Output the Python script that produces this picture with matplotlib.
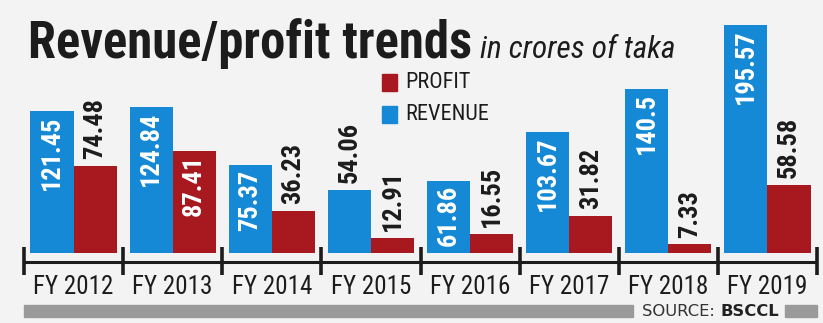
import os
import matplotlib
matplotlib.use("Agg")
import matplotlib.pyplot as plt
from matplotlib.patches import Rectangle
from matplotlib import font_manager as fm
from matplotlib.font_manager import FontProperties

# ---------------- data ----------------
years = ["FY 2012", "FY 2013", "FY 2014", "FY 2015", "FY 2016", "FY 2017", "FY 2018", "FY 2019"]
revenue = [121.45, 124.84, 75.37, 54.06, 61.86, 103.67, 140.5, 195.57]
profit = [74.48, 87.41, 36.23, 12.91, 16.55, 31.82, 7.33, 58.58]
revenue_labels = ["121.45", "124.84", "75.37", "54.06", "61.86", "103.67", "140.5", "195.57"]
profit_labels = ["74.48", "87.41", "36.23", "12.91", "16.55", "31.82", "7.33", "58.58"]

# ---------------- fonts: look for a condensed face ----------------
PREFS = ["robotocondensed", "liberationsansnarrow", "opensanscondensed", "notosanscondensed",
         "dejavusanscondensed", "latocondensed", "intercondensed"]


def _wt(f):
    w = f.weight
    if isinstance(w, str):
        return {"bold": 700, "semibold": 600, "normal": 400, "regular": 400, "medium": 500,
                "light": 300, "black": 900, "heavy": 800}.get(w.lower(), 400)
    return int(w)


def pick(bold, italic):
    for p in PREFS:
        best = None
        for f in fm.fontManager.ttflist:
            key = (os.path.basename(f.fname) + f.name).lower().replace(" ", "").replace("_", "").replace("-", "")
            if p not in key:
                continue
            it = f.style in ("italic", "oblique")
            if it != italic:
                continue
            w = _wt(f)
            score = abs(w - (700 if bold else 400))
            if best is None or score < best[0]:
                best = (score, f.fname)
        if best is not None and best[0] <= 100:
            return best[1]
    return None


def fprop(bold=False, italic=False, size=12, scale_fallback=0.82):
    path = pick(bold, italic)
    if path:
        return FontProperties(fname=path, size=size)
    return FontProperties(family="Liberation Sans", weight="bold" if bold else "normal",
                          style="italic" if italic else "normal", size=size * scale_fallback)


BG = "#f3f3f3"
BLUE = "#1589d5"
RED = "#a8191f"
DARK = "#1c1c1c"
GRAY = "#9a9a9a"
rev_inside_min = 60     # revenue labels drawn inside bars above this
prof_inside_min = 80    # profit labels drawn inside bars above this

W, H = 823, 323
fig = plt.figure(figsize=(W / 100, H / 100), dpi=100, facecolor=BG)


def fx(px):
    return px / W


def fy(py):
    return 1 - py / H


ax_left, ax_right, ax_top, ax_bottom = 24, 817, 20, 275
baseline_px = 253
ppu = 1.166  # pixels per unit
ax = fig.add_axes([fx(ax_left), fy(ax_bottom), (ax_right - ax_left) / W, (ax_bottom - ax_top) / H])
ax.set_facecolor("none")
ax.set_xlim(-0.5, len(years) - 0.5)
ax.set_ylim(-(ax_bottom - baseline_px) / ppu, (baseline_px - ax_top) / ppu)
for s in ax.spines.values():
    s.set_visible(False)
ax.set_yticks([])

bw = 0.435
xs = list(range(len(years)))
ax.bar([x - bw / 2 for x in xs], revenue, width=bw, color=BLUE, zorder=2)
ax.bar([x + bw / 2 for x in xs], profit, width=bw, color=RED, zorder=2)


def py2d(py):
    return (baseline_px - py) / ppu


ax.plot([-0.5, len(years) - 0.5], [py2d(261.5)] * 2, color=DARK, lw=2.2, clip_on=False, zorder=3,
        solid_capstyle="butt")
ax.vlines([x - 0.5 for x in range(len(years) + 1)], py2d(275), py2d(247), color=DARK, lw=2.6,
          clip_on=False, zorder=3)

ax.set_xticks(xs)
ax.set_xticklabels(years, color=DARK)
for tl in ax.get_xticklabels():
    tl.set_fontproperties(fprop(size=18))
ax.tick_params(axis="x", length=0, pad=0)

val_fp = fprop(bold=True, size=19)


def label(x, v, txt, inside):
    if inside:
        ax.annotate(txt, xy=(x, v), xytext=(0, -3), textcoords="offset points", rotation=90,
                    ha="center", va="top", color="white", fontproperties=val_fp, zorder=4)
    else:
        ax.annotate(txt, xy=(x, v), xytext=(0, 5), textcoords="offset points", rotation=90,
                    ha="center", va="bottom", color=DARK, fontproperties=val_fp, zorder=4)


for x, v, t in zip(xs, revenue, revenue_labels):
    label(x - bw / 2, v, t, v > rev_inside_min)
for x, v, t in zip(xs, profit, profit_labels):
    label(x + bw / 2, v, t, v > prof_inside_min)

# ---------------- title ----------------
t1 = fig.text(fx(28), fy(58), "Revenue/profit trends", fontproperties=fprop(bold=True, size=36.5),
              color=DARK, va="baseline", ha="left")
fig.canvas.draw()
r = fig.canvas.get_renderer()
bb = t1.get_window_extent(r)
fig.text(bb.x1 / W + 8 / W, fy(58), "in crores of taka", fontproperties=fprop(italic=True, size=22.5),
         color=DARK, va="baseline", ha="left")

# ---------------- legend ----------------
for (y0, c, name) in [(74, RED, "PROFIT"), (106, BLUE, "REVENUE")]:
    fig.patches.append(Rectangle((fx(382), fy(y0 + 17)), 15 / W, 17 / H, transform=fig.transFigure,
                                 color=c))
    fig.text(fx(405), fy(y0 + 8.5), name, fontproperties=fprop(size=16), color=DARK,
             va="center", ha="left")

# ---------------- source ----------------
fig.patches.append(Rectangle((fx(24), fy(317)), (633 - 24) / W, 12 / H, transform=fig.transFigure,
                             color=GRAY))
fig.patches.append(Rectangle((fx(785), fy(317)), (817 - 785) / W, 12 / H, transform=fig.transFigure,
                             color=GRAY))
s1 = fig.text(fx(642), fy(311), "SOURCE: ", fontfamily="DejaVu Sans", fontsize=11.8, color="#333333",
              va="center", ha="left")
fig.canvas.draw()
b1 = s1.get_window_extent(fig.canvas.get_renderer())
fig.text(b1.x1 / W, fy(311), "BSCCL", fontfamily="DejaVu Sans", fontweight="bold", fontsize=11.8,
         color="#222222", va="center", ha="left")

fig.savefig("out.png", dpi=100, facecolor=BG)
